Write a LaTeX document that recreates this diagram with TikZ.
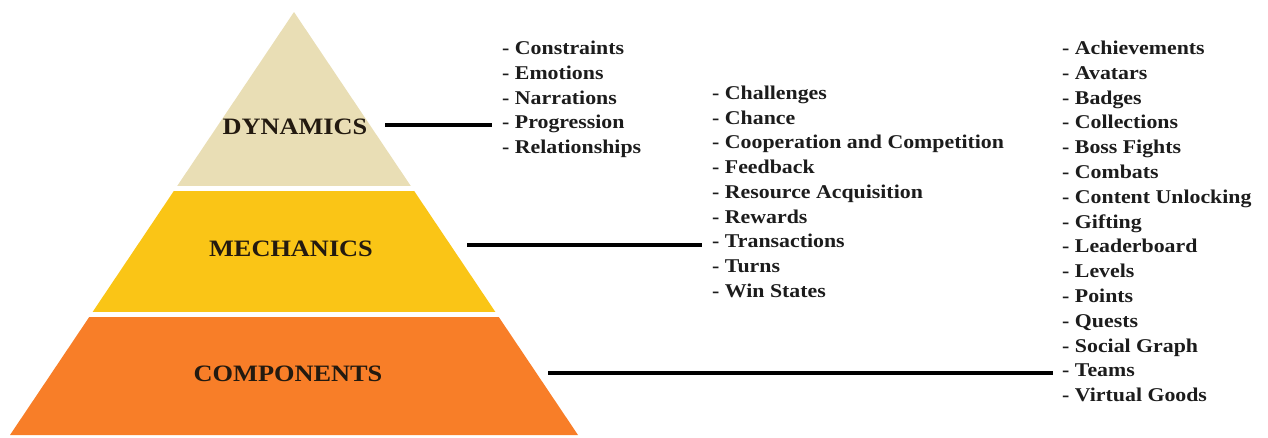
\documentclass[tikz,border=0pt]{standalone}
\usepackage{fontspec}
\setmainfont{Liberation Serif}[FakeStretch=1.12]
\usetikzlibrary{calc}
\definecolor{beigeL}{RGB}{233,222,181}
\definecolor{yellowL}{RGB}{250,197,22}
\definecolor{orangeL}{RGB}{248,126,40}
\definecolor{labelC}{RGB}{35,26,16}
\definecolor{itemC}{RGB}{28,28,28}
\tikzset{
  layerlabel/.style={inner sep=0pt, text=labelC, font=\bfseries\fontsize{23.5}{27}\selectfont},
  listitem/.style={anchor=base west, inner sep=0pt, text=itemC, font=\bfseries\fontsize{19.5}{24}\selectfont},
  conn/.style={line width=3.3pt, black}
}
\begin{document}
\begin{tikzpicture}[x=1pt,y=-1pt]
\useasboundingbox (0,0) rectangle (1268,437);
% pyramid
\coordinate (apex) at (294,12);
\coordinate (bl) at (10,435);
\coordinate (br) at (578,435);
\begin{scope}
  \clip (apex) -- (br) -- (bl) -- cycle;
  \fill[beigeL] (0,0) rectangle (600,186);
  \fill[yellowL] (0,190.5) rectangle (600,312);
  \fill[orangeL] (0,317) rectangle (600,440);
\end{scope}
% layer labels
\node[layerlabel] (dlab) at (295,127) {DYNAMICS};
\node[layerlabel] (mlab) at (291,249) {MECHANICS};
\node[layerlabel] (clab) at (288,374) {COMPONENTS};
% lists
\foreach \t [count=\i] in {Constraints,Emotions,Narrations,Progression,Relationships}
  \node[listitem] (dyn\i) at (502,{54.5+24.8*(\i-1)}) {- \t};
\foreach \t [count=\i] in {Challenges,Chance,Cooperation and Competition,Feedback,Resource Acquisition,Rewards,Transactions,Turns,Win States}
  \node[listitem] (mec\i) at (712,{99.5+24.7*(\i-1)}) {- \t};
\foreach \t [count=\i] in {Achievements,Avatars,Badges,Collections,Boss Fights,Combats,Content Unlocking,Gifting,Leaderboard,Levels,Points,Quests,Social Graph,Teams,Virtual Goods}
  \node[listitem] (com\i) at (1062,{54.5+24.8*(\i-1)}) {- \t};
% connectors
\coordinate (dstart) at (385,125);
\coordinate (mstart) at (467,245);
\coordinate (cstart) at (548,373);
\draw[conn] (dstart) -- ([xshift=-10pt]dstart -| dyn4.west);
\draw[conn] (mstart) -- ([xshift=-10pt]mstart -| mec7.west);
\draw[conn] (cstart) -- ([xshift=-9pt]cstart -| com14.west);
\end{tikzpicture}
\end{document}
